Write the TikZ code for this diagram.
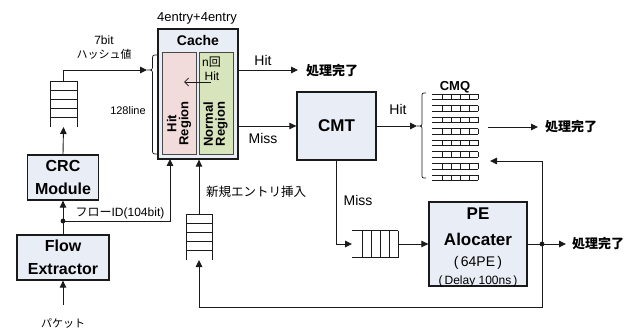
\documentclass[tikz,border=0pt]{standalone}
\usepackage{fontspec}
\setmainfont{Liberation Sans}
\newfontfamily\jp{Noto Sans CJK JP}
\usetikzlibrary{arrows.meta,calc}
\definecolor{boxfill}{HTML}{E9EDF5}
\definecolor{hitfill}{HTML}{F2DCDB}
\definecolor{normfill}{HTML}{D8E4BC}
\definecolor{ink}{HTML}{1A1A1A}
\newcommand\myfs[1]{\fontsize{#1}{#1}\selectfont}
\begin{document}
\begin{tikzpicture}[x=1pt,y=-1pt,
  box/.style={draw=ink, line width=1.3pt, fill=boxfill, inner sep=0pt, align=center, font=\bfseries\fontsize{16}{23}\selectfont},
  region/.style={draw=ink!80, line width=0.7pt, inner sep=0pt, minimum width=34pt, minimum height=102pt},
  arr/.style={draw=ink, line width=0.9pt, -{Triangle[length=7pt,width=6.5pt]}},
  ln/.style={draw=ink, line width=0.9pt},
  ql/.style={draw=ink, line width=0.8pt},
  lbl/.style={inner sep=0pt},
  area/.style={inner sep=0pt, outer sep=0pt}]
\useasboundingbox (0,0) rectangle (637,331);

% ---------- Cache ----------
\node[box, minimum width=80pt, minimum height=130pt] (cache) at (198,94) {};
\node[lbl, font=\bfseries\myfs{14}] (cachet) at (198,40) {Cache};
\node[region, fill=hitfill] (hitr) at (179,103) {};
\node[region, fill=normfill] (normr) at (216,103) {};
\node[lbl, rotate=90, align=center, font=\bfseries\fontsize{13}{12}\selectfont] (hitt) at (179,123.5) {Hit\\Region};
\node[lbl, rotate=90, align=center, font=\bfseries\fontsize{13}{12}\selectfont] (normt) at (215.5,124) {Normal\\Region};
\node[lbl, font=\myfs{12}] (nkai) at (211.5,62.5) {n{\jp 回}};
\node[lbl, font=\myfs{12}] (nhit) at (212,76) {Hit};
\coordinate (ia) at (211,82);
\coordinate (ib) at (184,82);
\draw[ln, line width=0.8pt, -{Straight Barb[length=4pt,width=8pt]}] (ia) -- (ib);
\node[lbl, font=\myfs{13}] (entries) at (197,18) {4entry+4entry};

% brace at cache
\coordinate (cbrace) at (147,70);
\draw[ql, line width=0.7pt] (157.5,55) .. controls (152.5,55) .. (152.5,60) -- (152.5,65)
  .. controls (152.5,70) .. (cbrace) .. controls (152.5,70) .. (152.5,75) -- (152.5,149)
  .. controls (152.5,154) .. (157.5,154);
\node[lbl, font=\myfs{12}] (bit7) at (104,40) {7bit};
\node[lbl, font=\jp\myfs{11}] (hash) at (104,54) {ハッシュ値};
\node[lbl, font=\myfs{11}] (line128) at (128,111) {128line};

% ---------- hash queue ----------
\node[area, minimum width=27pt, minimum height=46pt] (hq) at (63.5,104) {};
\draw[ql] (50,127) -- (50,81) -- (77,81) -- (77,127);
\foreach \yy in {90,99,108,117} \draw[ql] (50,\yy) -- (77,\yy);

% ---------- CRC / Flow ----------
\node[box, minimum width=71pt, minimum height=45pt] (crc) at (63,177.5) {CRC\\Module};
\node[box, minimum width=92pt, minimum height=45pt] (flow) at (63,257.5) {Flow\\Extractor};
\node[lbl, font=\jp\myfs{11}] (pkt) at (63,323) {パケット};

\draw[arr] (crc.north) -- (hq.south);
\draw[arr] (hq.north) |- (cbrace);
\draw[arr] (flow.north) -- (crc.south);
\draw[arr, shorten <=13pt] (pkt.north) -- (flow.south);
\coordinate (fid) at (63,221);
\fill[ink] (fid) circle (2.4pt);
\coordinate (cin1) at (170,159);
\draw[arr] (fid) -| (cin1);
\node[lbl, font=\myfs{12}] (fidt) at (120,213) {{\jp フロー}ID(104bit)};

% ---------- new entry queue ----------
\node[area, minimum width=26pt, minimum height=46pt] (nq) at (199,237) {};
\draw[ql] (186,260) -- (186,214) -- (212,214) -- (212,260);
\foreach \yy in {223.2,232.4,241.6,250.8} \draw[ql] (186,\yy) -- (212,\yy);
\draw[arr] (nq.north) -- (nq.north |- cache.south);
\node[lbl, font=\jp\myfs{12.5}] (newt) at (256,192) {新規エントリ挿入};

% ---------- CMT ----------
\node[box, minimum width=79pt, minimum height=68pt, font=\bfseries\myfs{17}] (cmt) at (336.5,126) {CMT};
\node[lbl, font=\myfs{14}] (hit1) at (263,60) {Hit};
\node[lbl, font=\myfs{14}] (miss1) at (263,138) {Miss};
\node[lbl, anchor=west, font=\jp\bfseries\myfs{13}] (done1) at (306,71) {処理完了};
\draw[arr, shorten >=8pt] (cache.east |- cbrace) -- (done1.west |- cbrace);
\draw[arr] (cache.east |- cmt.west) -- (cmt.west);

% ---------- CMQ ----------
\coordinate (qbrace) at (417,126);
\draw[ql, line width=0.7pt] (426,93) .. controls (422,93) .. (422,97) -- (422,122)
  .. controls (422,126) .. (qbrace) .. controls (422,126) .. (422,130) -- (422,174)
  .. controls (422,178) .. (426,178);
\draw[arr] (cmt.east) -- (qbrace);
\node[lbl, font=\myfs{14}] (hit2) at (398,109) {Hit};
\node[lbl, font=\bfseries\myfs{13}] (cmqt) at (455,87) {CMQ};
\node[area, minimum width=46pt, minimum height=88pt] (cmq) at (455,137) {};
\foreach \i in {0,...,7}{
  \pgfmathsetmacro\ya{94+\i*11.57}
  \pgfmathsetmacro\yb{\ya+5.5}
  \draw[ql, line width=0.7pt] (432,\ya) -- (478,\ya) (432,\yb) -- (478,\yb);
  \foreach \xx in {442,451,460,469,478} \draw[ql, line width=0.7pt] (\xx,\ya) -- (\xx,\yb);
}
\node[lbl, anchor=west, font=\jp\bfseries\myfs{13}] (done2) at (545,127) {処理完了};
\draw[arr, shorten <=10pt, shorten >=7pt] (cmq.east |- done2.west) -- (done2.west);

% ---------- PE path ----------
\node[area, minimum width=46pt, minimum height=27pt] (hq2) at (375,244) {};
\draw[ql] (352,230.5) -- (398,230.5) (352,257.5) -- (398,257.5);
\foreach \xx in {362,371,380,389,398} \draw[ql] (\xx,230.5) -- (\xx,257.5);
\draw[arr] (cmt.south) |- (hq2.west);
\node[lbl, font=\myfs{14}] (miss2) at (358,200) {Miss};

\node[box, minimum width=98pt, minimum height=84pt] (pe) at (478,244) {};
\node[lbl, anchor=base, font=\bfseries\myfs{17}] (pet1) at (478,219.5) {PE};
\node[lbl, anchor=base, font=\bfseries\myfs{17}] (pet2) at (478,245) {Alocater};
\node[lbl, anchor=base, font=\myfs{14}] (pet3) at (478,266) {(\,64PE\,)};
\node[lbl, anchor=base, font=\myfs{12}] (pet4) at (478,284) {(\,Delay 100ns\,)};
\draw[arr] (hq2.east) -- (pe.west);

\coordinate (pdot) at (542,244);
\node[lbl, anchor=west, font=\jp\bfseries\myfs{13}] (done3) at (572,244) {処理完了};
\draw[ln] (pe.east) -- (pdot);
\fill[ink] (pdot) circle (2.4pt);
\draw[arr, shorten >=6pt] (pdot) -- (done3.west);
\coordinate (fb) at (490,161);
\draw[arr] (pdot) |- (fb);
\draw[arr] (pdot) -- (pdot |- 0,307) -| (nq.south);
\end{tikzpicture}
\end{document}
